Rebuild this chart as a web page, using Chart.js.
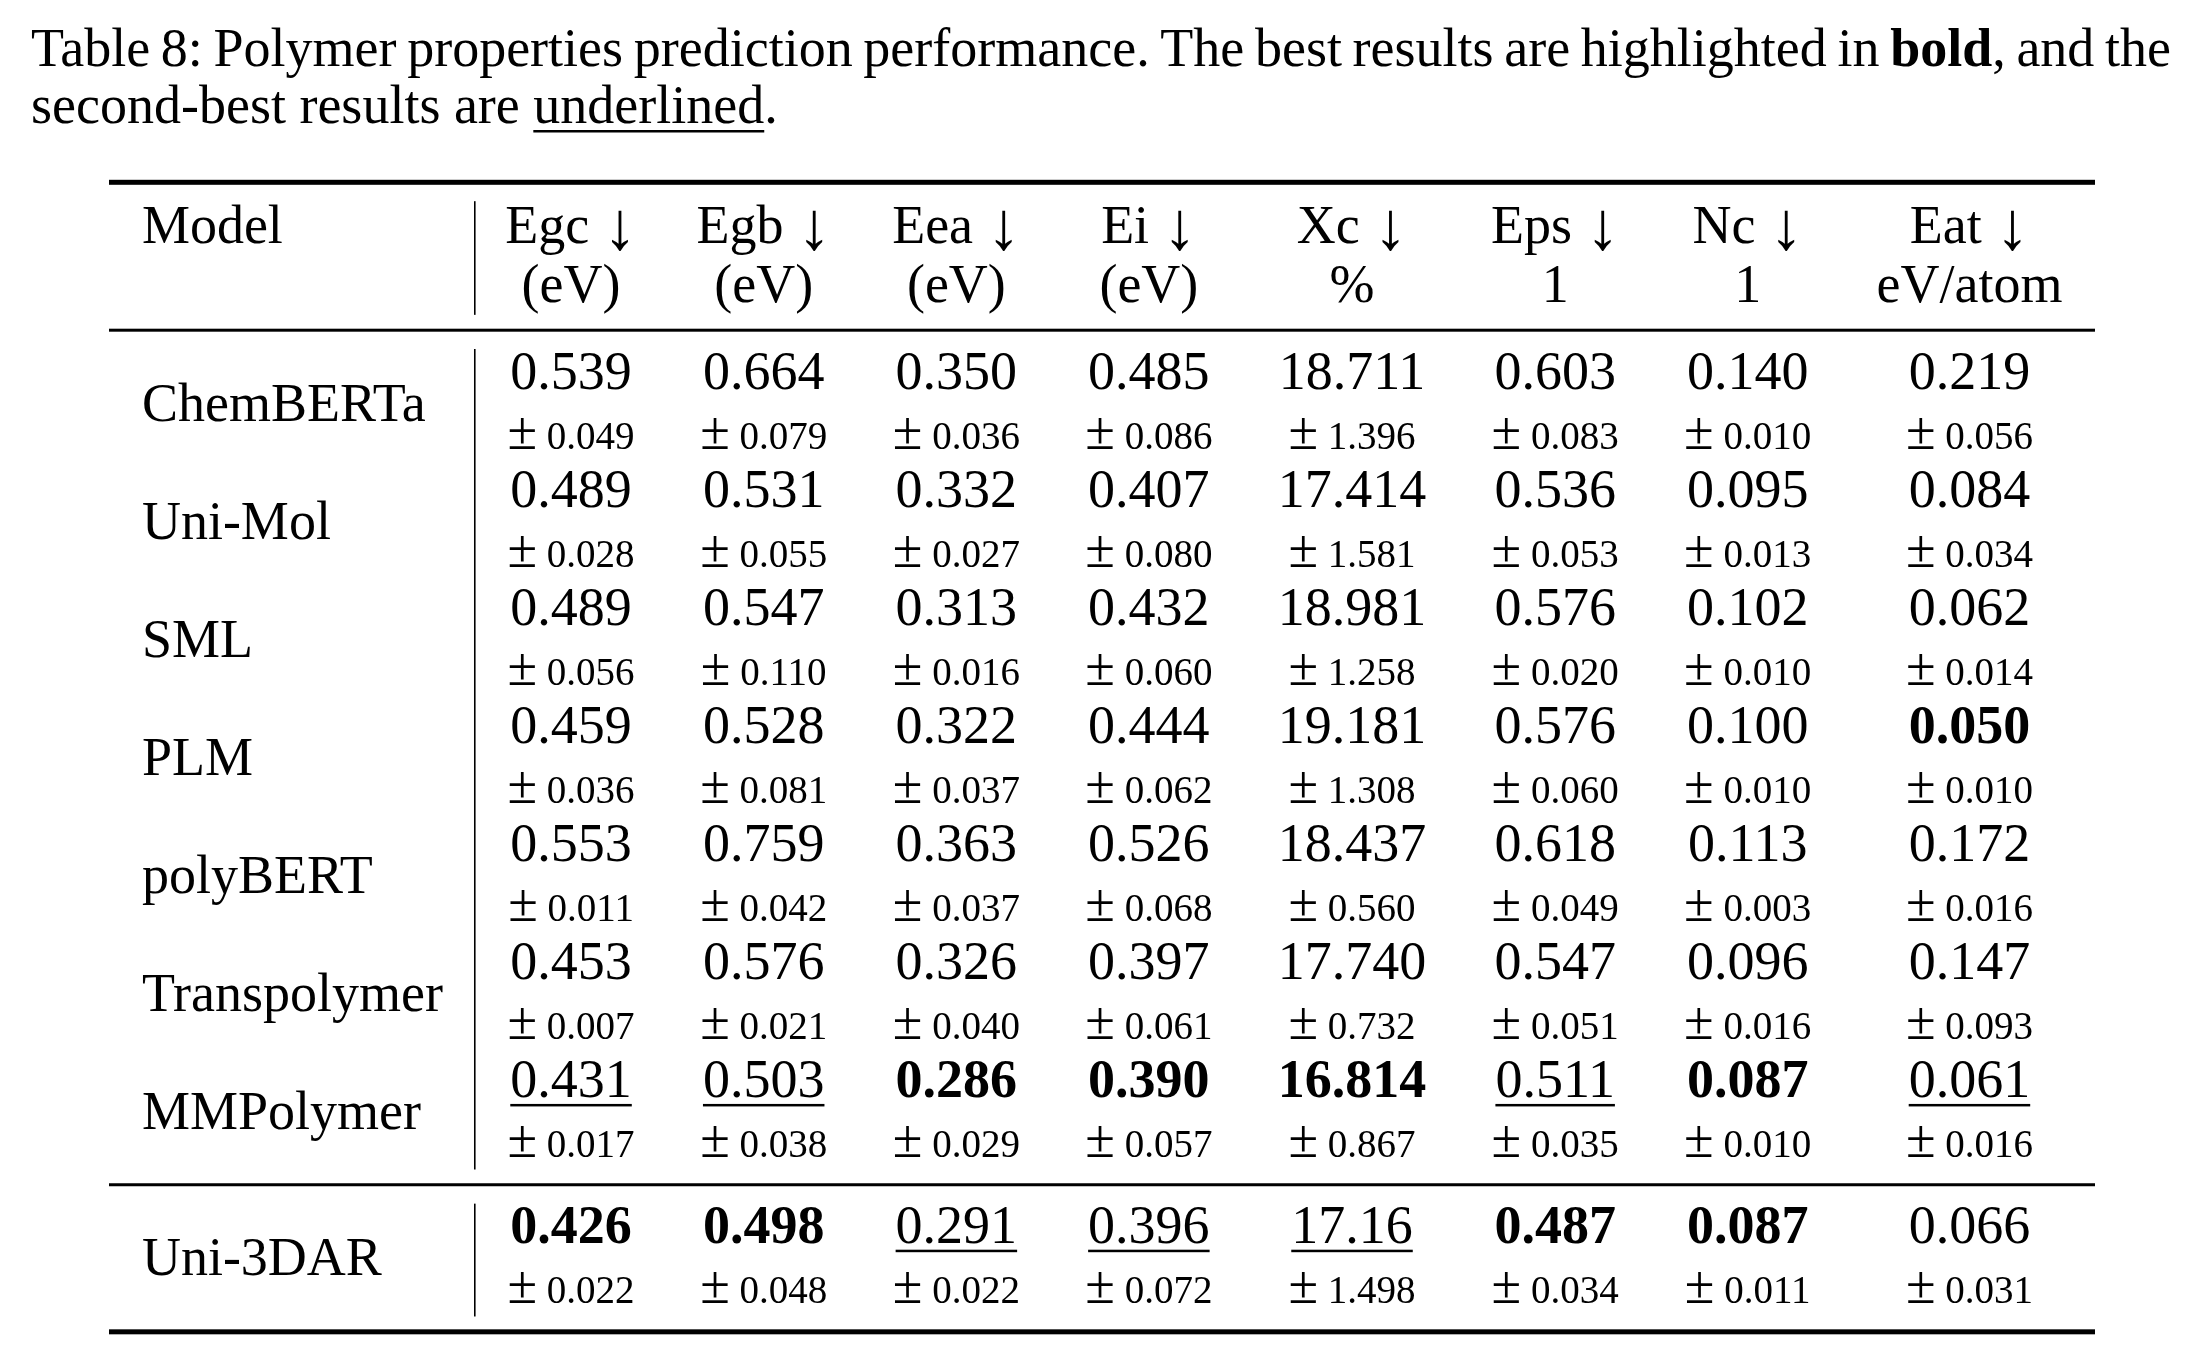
<!DOCTYPE html>
<html>
<head>
<meta charset="utf-8">
<title>Table 8: Polymer properties prediction performance</title>
<script src="https://cdn.jsdelivr.net/npm/chart.js@4.4.1/dist/chart.umd.min.js"></script>
<style>
    html, body { margin: 0; padding: 0; background: #fff; }
    canvas { display: block; }
</style>
</head>
<body>
<canvas id="polymerTable" width="2192" height="1370"></canvas>
<script>
// Table rows and columns
const models = ['ChemBERTa', 'Uni-Mol', 'SML', 'PLM', 'polyBERT', 'Transpolymer', 'MMPolymer', 'Uni-3DAR'];
const metrics = ['Egc', 'Egb', 'Eea', 'Ei', 'Xc', 'Eps', 'Nc', 'Eat'];
const metricUnits = ['(eV)', '(eV)', '(eV)', '(eV)', '%', '1', '1', 'eV/atom'];

// Mean and std per metric (kept as strings so the printed digits stay as in the paper)
const egcMean = ['0.539', '0.489', '0.489', '0.459', '0.553', '0.453', '0.431', '0.426'];
const egcStd = ['0.049', '0.028', '0.056', '0.036', '0.011', '0.007', '0.017', '0.022'];
const egbMean = ['0.664', '0.531', '0.547', '0.528', '0.759', '0.576', '0.503', '0.498'];
const egbStd = ['0.079', '0.055', '0.110', '0.081', '0.042', '0.021', '0.038', '0.048'];
const eeaMean = ['0.350', '0.332', '0.313', '0.322', '0.363', '0.326', '0.286', '0.291'];
const eeaStd = ['0.036', '0.027', '0.016', '0.037', '0.037', '0.040', '0.029', '0.022'];
const eiMean = ['0.485', '0.407', '0.432', '0.444', '0.526', '0.397', '0.390', '0.396'];
const eiStd = ['0.086', '0.080', '0.060', '0.062', '0.068', '0.061', '0.057', '0.072'];
const xcMean = ['18.711', '17.414', '18.981', '19.181', '18.437', '17.740', '16.814', '17.16'];
const xcStd = ['1.396', '1.581', '1.258', '1.308', '0.560', '0.732', '0.867', '1.498'];
const epsMean = ['0.603', '0.536', '0.576', '0.576', '0.618', '0.547', '0.511', '0.487'];
const epsStd = ['0.083', '0.053', '0.020', '0.060', '0.049', '0.051', '0.035', '0.034'];
const ncMean = ['0.140', '0.095', '0.102', '0.100', '0.113', '0.096', '0.087', '0.087'];
const ncStd = ['0.010', '0.013', '0.010', '0.010', '0.003', '0.016', '0.010', '0.011'];
const eatMean = ['0.219', '0.084', '0.062', '0.050', '0.172', '0.147', '0.061', '0.066'];
const eatStd = ['0.056', '0.034', '0.014', '0.010', '0.016', '0.093', '0.016', '0.031'];

const meanCols = [egcMean, egbMean, eeaMean, eiMean, xcMean, epsMean, ncMean, eatMean];
const stdCols = [egcStd, egbStd, eeaStd, eiStd, xcStd, epsStd, ncStd, eatStd];

// Layout (y unit = one model row)
const FONT = '"Liberation Serif", "Times New Roman", Times, serif';
const bigSize = 54;
const smallSize = 39;
const arrowSize = 68;
const arrowDrop = 6;
const colPad = 33;
const lastGroupStart = 7;      // Uni-3DAR sits below its own rule
const lastGroupShift = 0.235;
const stdOffset = 0.508;
const nameOffset = 0.271;
const headY = [-1.233, -0.733];
const rules = [
    { y: -1.749, width: 5 },
    { y: -0.496, width: 3 },
    { y: 6.744, width: 3 },
    { y: 7.99, width: 5 }
];
const gapBelowRule = 0.16;
const gapAboveRule = 0.13;

const rowY = i => i + (i >= lastGroupStart ? lastGroupShift : 0);
const fontOf = (size, bold) => (bold ? 'bold ' : '') + size + 'px ' + FONT;

// Bold = best (lowest), underline = second best unless tied with the best
function markCells(values) {
    const nums = values.map(Number);
    const sorted = [...nums].sort((a, b) => a - b);
    const best = sorted[0];
    const second = sorted[1];
    return nums.map(v => ({
        bold: v === best,
        underline: v !== best && second !== best && v === second
    }));
}

// Measure column widths the way LaTeX sizes tabular columns
const mctx = document.createElement('canvas').getContext('2d');
function textWidth(text, size, bold) {
    mctx.font = fontOf(size, bold);
    return mctx.measureText(text).width;
}
function pmWidth(text) {
    return textWidth('\u00b1', bigSize) + textWidth(' ', smallSize) + textWidth(text, smallSize);
}
function headWidth(text) {
    return textWidth(text + ' ', bigSize) + textWidth('\u2193', arrowSize);
}

const nameColWidth = Math.max(...models.map(m => textWidth(m, bigSize)), textWidth('Model', bigSize)) + 2 * colPad;
const metricColWidths = metrics.map((m, c) => {
    const marks = markCells(meanCols[c]);
    return Math.max(
        textWidth(m + ' \u2193', bigSize),
        textWidth(metricUnits[c], bigSize),
        ...meanCols[c].map((v, i) => textWidth(v, bigSize, marks[i].bold)),
        ...stdCols[c].map(v => pmWidth(v))
    ) + 2 * colPad;
});
const colWidths = [nameColWidth, ...metricColWidths];
const colCenter = [];
let acc = 0;
colWidths.forEach(w => {
    colCenter.push(acc + w / 2);
    acc += w;
});
const tableWidth = acc;

// Build datasets: every cell is an invisible point placed by the scales
const datasets = [];
datasets.push({
    label: 'header1',
    data: [{ x: colPad, y: headY[0] }, ...metrics.map((m, c) => ({ x: colCenter[c + 1], y: headY[0] }))],
    cells: [{ text: 'Model', align: 'left' }, ...metrics.map(m => ({ text: m, arrow: true }))]
});
datasets.push({
    label: 'header2',
    data: metricUnits.map((u, c) => ({ x: colCenter[c + 1], y: headY[1] })),
    cells: metricUnits.map(u => ({ text: u }))
});
datasets.push({
    label: 'models',
    data: models.map((m, i) => ({ x: colPad, y: rowY(i) + nameOffset })),
    cells: models.map(m => ({ text: m, align: 'left' }))
});
metrics.forEach((m, c) => {
    const marks = markCells(meanCols[c]);
    datasets.push({
        label: m + ' mean',
        data: meanCols[c].map((v, i) => ({ x: colCenter[c + 1], y: rowY(i) })),
        cells: meanCols[c].map((v, i) => ({ text: v, bold: marks[i].bold, underline: marks[i].underline }))
    });
    datasets.push({
        label: m + ' std',
        data: stdCols[c].map((v, i) => ({ x: colCenter[c + 1], y: rowY(i) + stdOffset })),
        cells: stdCols[c].map(v => ({ text: v, pm: true }))
    });
});

// Caption, justified on the first line like the paper
const captionLeft = 31;
const captionRight = 2171;
const captionBase = [66, 123];
const captionLine1 = 'Table 8: Polymer properties prediction performance. The best results are highlighted in'
    .split(' ').map(w => [{ text: w }]);
captionLine1.push([{ text: 'bold', bold: true }, { text: ',' }], [{ text: 'and' }], [{ text: 'the' }]);
const captionLine2 = 'second-best results are'.split(' ').map(w => [{ text: w }]);
captionLine2.push([{ text: 'underlined', underline: true }, { text: '.' }]);

function drawCaptionLine(ctx, words, baseline, justify) {
    const wordW = words.map(runs => runs.reduce((s, r) => s + textWidth(r.text, bigSize, r.bold), 0));
    const natural = wordW.reduce((s, w) => s + w, 0);
    let space = textWidth(' ', bigSize);
    if (justify) space = (captionRight - captionLeft - natural) / (words.length - 1);
    let x = captionLeft;
    words.forEach(runs => {
        runs.forEach(r => {
            ctx.font = fontOf(bigSize, r.bold);
            const w = ctx.measureText(r.text).width;
            ctx.fillText(r.text, x, baseline);
            if (r.underline) ctx.fillRect(x, baseline + 7, w, 2.5);
            x += w;
        });
        x += space;
    });
}

function drawCell(ctx, cell, x, y) {
    if (cell.pm) {
        const wPm = textWidth('\u00b1', bigSize);
        const wSp = textWidth(' ', smallSize);
        const wNum = textWidth(cell.text, smallSize);
        const left = x - (wPm + wSp + wNum) / 2;
        ctx.font = fontOf(bigSize);
        ctx.fillText('\u00b1', left, y);
        ctx.font = fontOf(smallSize);
        ctx.fillText(cell.text, left + wPm + wSp, y);
        return;
    }
    if (cell.arrow) {
        const left = x - headWidth(cell.text) / 2;
        ctx.font = fontOf(bigSize);
        ctx.fillText(cell.text, left, y);
        const wText = ctx.measureText(cell.text + ' ').width;
        ctx.font = fontOf(arrowSize);
        ctx.fillText('\u2193', left + wText, y + arrowDrop);
        return;
    }
    ctx.font = fontOf(bigSize, cell.bold);
    const w = ctx.measureText(cell.text).width;
    const left = cell.align === 'left' ? x : x - w / 2;
    ctx.fillText(cell.text, left, y);
    if (cell.underline) ctx.fillRect(left, y + 7, w, 2.5);
}

const tablePlugin = {
    id: 'tableText',
    afterDatasetsDraw(chart) {
        const { ctx, chartArea, scales } = chart;
        ctx.save();
        ctx.fillStyle = '#000';
        ctx.strokeStyle = '#000';
        ctx.textBaseline = 'alphabetic';

        // booktabs rules
        rules.forEach(r => {
            const py = scales.y.getPixelForValue(r.y);
            ctx.fillRect(chartArea.left, py - r.width / 2, chartArea.right - chartArea.left, r.width);
        });

        // vertical rule after the model column, broken around the horizontal rules
        const vx = scales.x.getPixelForValue(colWidths[0]);
        ctx.lineWidth = 1.6;
        for (let k = 0; k < rules.length - 1; k++) {
            const y0 = scales.y.getPixelForValue(rules[k].y + gapBelowRule);
            const y1 = scales.y.getPixelForValue(rules[k + 1].y - gapAboveRule);
            ctx.beginPath();
            ctx.moveTo(vx, y0);
            ctx.lineTo(vx, y1);
            ctx.stroke();
        }

        // cells
        chart.data.datasets.forEach((ds, di) => {
            const meta = chart.getDatasetMeta(di);
            meta.data.forEach((pt, i) => drawCell(ctx, ds.cells[i], pt.x, pt.y));
        });

        drawCaptionLine(ctx, captionLine1, captionBase[0], true);
        drawCaptionLine(ctx, captionLine2, captionBase[1], false);
        ctx.restore();
    }
};

new Chart(document.getElementById('polymerTable').getContext('2d'), {
    type: 'scatter',
    data: { datasets: datasets },
    options: {
        responsive: false,
        animation: false,
        events: [],
        layout: { padding: { left: 109, right: 97, top: 181, bottom: 37 } },
        elements: { point: { radius: 0, hoverRadius: 0 } },
        scales: {
            x: { type: 'linear', display: false, min: 0, max: tableWidth },
            y: { type: 'linear', display: false, reverse: true, min: -1.76, max: 8.0 }
        },
        plugins: {
            legend: { display: false },
            tooltip: { enabled: false }
        }
    },
    plugins: [tablePlugin]
});
</script>
</body>
</html>
